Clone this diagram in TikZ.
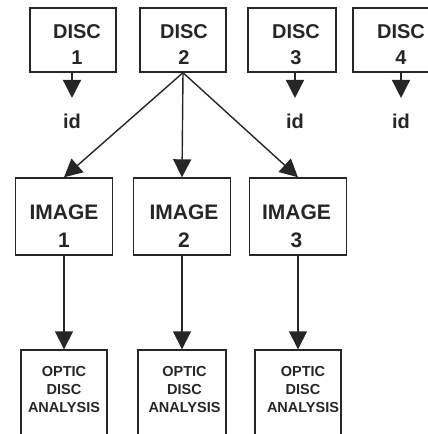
\documentclass[tikz,border=0pt]{standalone}
\usepackage{fontspec}
\setmainfont{Liberation Sans}
\usetikzlibrary{arrows.meta}

\begin{document}
\begin{tikzpicture}[x=1pt, y=1pt, color=black!85, line width=1.4pt,
        framebox/.style={draw, rectangle, inner sep=0pt},
        discbox/.style={framebox, minimum width=86pt, minimum height=64pt},
        imagebox/.style={framebox, minimum width=97pt, minimum height=77pt},
        optbox/.style={framebox, minimum width=87pt, minimum height=88pt},
        disctext/.style={align=center, inner sep=0pt, font=\bfseries\fontsize{20}{26}\selectfont},
        imagetext/.style={align=center, inner sep=0pt, font=\bfseries\fontsize{21}{28}\selectfont},
        opttext/.style={align=center, inner sep=0pt, font=\bfseries\fontsize{14.5}{18}\selectfont},
        idtext/.style={inner xsep=0pt, inner ysep=15pt, font=\bfseries\fontsize{20}{24}\selectfont},
        arr/.style={-{Triangle[width=18pt, length=18pt]}}]
        \useasboundingbox (0,0) rectangle (428,-434);
        \clip (0,0) rectangle (428,-434);
        % Draw the disc boxes.
        \node[discbox] (d1) at (73,-40) {};
        \node[discbox] (d2) at (183,-40) {};
        \node[discbox, minimum width=88pt] (d3) at (292,-40) {};
        \node[discbox, minimum width=92pt] (d4) at (399,-40) {};
        \node[disctext] (d1t) at (77,-45) {DISC\\1};
        \node[disctext] (d2t) at (184,-45) {DISC\\2};
        \node[disctext] (d3t) at (296,-45) {DISC\\3};
        \node[disctext] (d4t) at (401,-45) {DISC\\4};
        % Specify the id labels.
        \node[idtext] (id1) at (72,-121) {id};
        \node[idtext] (id3) at (295,-121) {id};
        \node[idtext] (id4) at (401,-121) {id};
        % Draw the image boxes.
        \node[imagebox] (i1) at (64,-216.5) {};
        \node[imagebox] (i2) at (182,-216.5) {};
        \node[imagebox] (i3) at (298,-216.5) {};
        \node[imagetext] (i1t) at (64,-226) {IMAGE\\1};
        \node[imagetext] (i2t) at (184,-226) {IMAGE\\2};
        \node[imagetext] (i3t) at (296.5,-226) {IMAGE\\3};
        % Draw the analysis boxes.
        \node[optbox, minimum width=86pt] (a1) at (64,-394) {};
        \node[optbox, minimum width=88pt] (a2) at (182,-394) {};
        \node[optbox, minimum width=86pt] (a3) at (298,-394) {};
        \node[opttext] (a1t) at (64,-390) {OPTIC\\DISC\\ANALYSIS};
        \node[opttext] (a2t) at (184.5,-390) {OPTIC\\DISC\\ANALYSIS};
        \node[opttext] (a3t) at (303,-390) {OPTIC\\DISC\\ANALYSIS};
        % Connect everything.
        \draw[arr] (d1.south -| id1) -- (id1.north);
        \draw[arr] (d3.south -| id3) -- (id3.north);
        \draw[arr] (d4.south -| id4) -- (id4.north);
        \draw[arr] (d2.south) -- (i1.north);
        \draw[arr] (d2.south) -- (i2.north);
        \draw[arr] (d2.south) -- (i3.north);
        \draw[arr] (i1.south) -- (a1.north);
        \draw[arr] (i2.south) -- (a2.north);
        \draw[arr] (i3.south) -- (a3.north);
    \end{tikzpicture}
\end{document}
